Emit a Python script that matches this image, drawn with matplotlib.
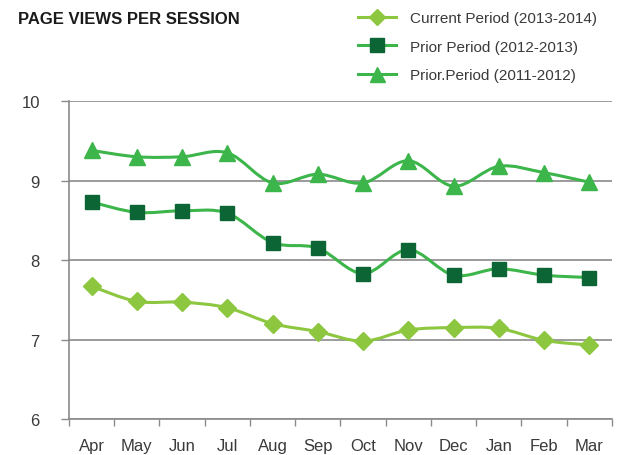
import numpy as np
import matplotlib
matplotlib.use("Agg")
import matplotlib.pyplot as plt
from matplotlib.path import Path
from matplotlib.patches import PathPatch
from matplotlib.lines import Line2D

months = ["Apr", "May", "Jun", "Jul", "Aug", "Sep", "Oct", "Nov", "Dec", "Jan", "Feb", "Mar"]
current = [7.67, 7.48, 7.47, 7.40, 7.20, 7.10, 6.98, 7.12, 7.15, 7.14, 6.99, 6.93]
prior1 = [8.73, 8.60, 8.62, 8.59, 8.22, 8.15, 7.83, 8.13, 7.81, 7.89, 7.81, 7.78]
prior2 = [9.38, 9.30, 9.30, 9.35, 8.97, 9.08, 8.97, 9.25, 8.93, 9.18, 9.10, 8.98]
labels = ["Current Period (2013-2014)", "Prior Period (2012-2013)", "Prior.Period (2011-2012)"]
yticks = [6, 7, 8, 9, 10]

plt.rcParams['font.family'] = ['Liberation Sans', 'DejaVu Sans']
TXT = "#3a3a3a"

fig = plt.figure(figsize=(6.27, 4.56), dpi=100)
ax = fig.add_axes([0.110, 0.079, 0.866, 0.697])


def smooth_path(xs, ys):
    xs = np.asarray(xs, float)
    ys = np.asarray(ys, float)
    verts = [(xs[0], ys[0])]
    codes = [Path.MOVETO]
    n = len(xs)
    for i in range(n - 1):
        p0 = max(i - 1, 0)
        p3 = min(i + 2, n - 1)
        c1 = (xs[i] + (xs[i + 1] - xs[p0]) / 6, ys[i] + (ys[i + 1] - ys[p0]) / 6)
        c2 = (xs[i + 1] - (xs[p3] - xs[i]) / 6, ys[i + 1] - (ys[p3] - ys[i]) / 6)
        verts += [c1, c2, (xs[i + 1], ys[i + 1])]
        codes += [Path.CURVE4] * 3
    return Path(verts, codes)


x = np.arange(len(months))
series = [
    (current, "#8dc63f", "#8dc63f", "D", 9.5),
    (prior1, "#3cb54a", "#0b6535", "s", 10.5),
    (prior2, "#3cb54a", "#3cb54a", "^", 12),
]
for vals, lc, mc, mk, ms in series:
    patch = PathPatch(smooth_path(x, vals), facecolor="none", edgecolor=lc, lw=2.2, zorder=3)
    ax.add_patch(patch)
    ax.plot(x, vals, linestyle="none", marker=mk, color=mc, markersize=ms,
            markeredgecolor=mc, zorder=4)

ax.set_xlim(-0.5, len(months) - 0.5)
ax.set_ylim(6, 10)
ax.set_yticks(yticks)
ax.set_yticklabels([str(v) for v in yticks], fontsize=12, color=TXT)
ax.yaxis.grid(True, color="#8a8a8a", lw=1.2)
ax.set_axisbelow(True)
ax.set_xticks(x)
ax.set_xticklabels(months, fontsize=12, color=TXT)
ax.set_xticks(np.arange(-0.5, len(months)), minor=True)
ax.tick_params(axis="x", which="major", length=0, pad=14)
ax.tick_params(axis="x", which="minor", length=5, color="#8a8a8a", width=1)
ax.tick_params(axis="y", length=6, color="#8a8a8a", width=1, pad=15)
for s in ["top", "right"]:
    ax.spines[s].set_visible(False)
for s in ["left", "bottom"]:
    ax.spines[s].set_color("#8a8a8a")
    ax.spines[s].set_linewidth(1.2)

fig.text(18 / 627, 1 - 19 / 456, "PAGE VIEWS PER SESSION", fontsize=12, fontweight="bold",
         color="#1a1a1a", va="center", ha="left")

handles = []
for vals, lc, mc, mk, ms in series:
    handles.append(Line2D([0], [0], color=lc, lw=2.2, marker=mk, markersize=ms * 0.9,
                          markerfacecolor=mc, markeredgecolor=mc))
leg = fig.legend(handles, labels, loc="upper left", bbox_to_anchor=(352 / 627, 1 - 6 / 456),
                 frameon=False, fontsize=11, handlelength=2.5, labelspacing=0.95,
                 handletextpad=0.9, borderaxespad=0)
for t in leg.get_texts():
    t.set_color(TXT)

fig.savefig("out.png", dpi=100)
